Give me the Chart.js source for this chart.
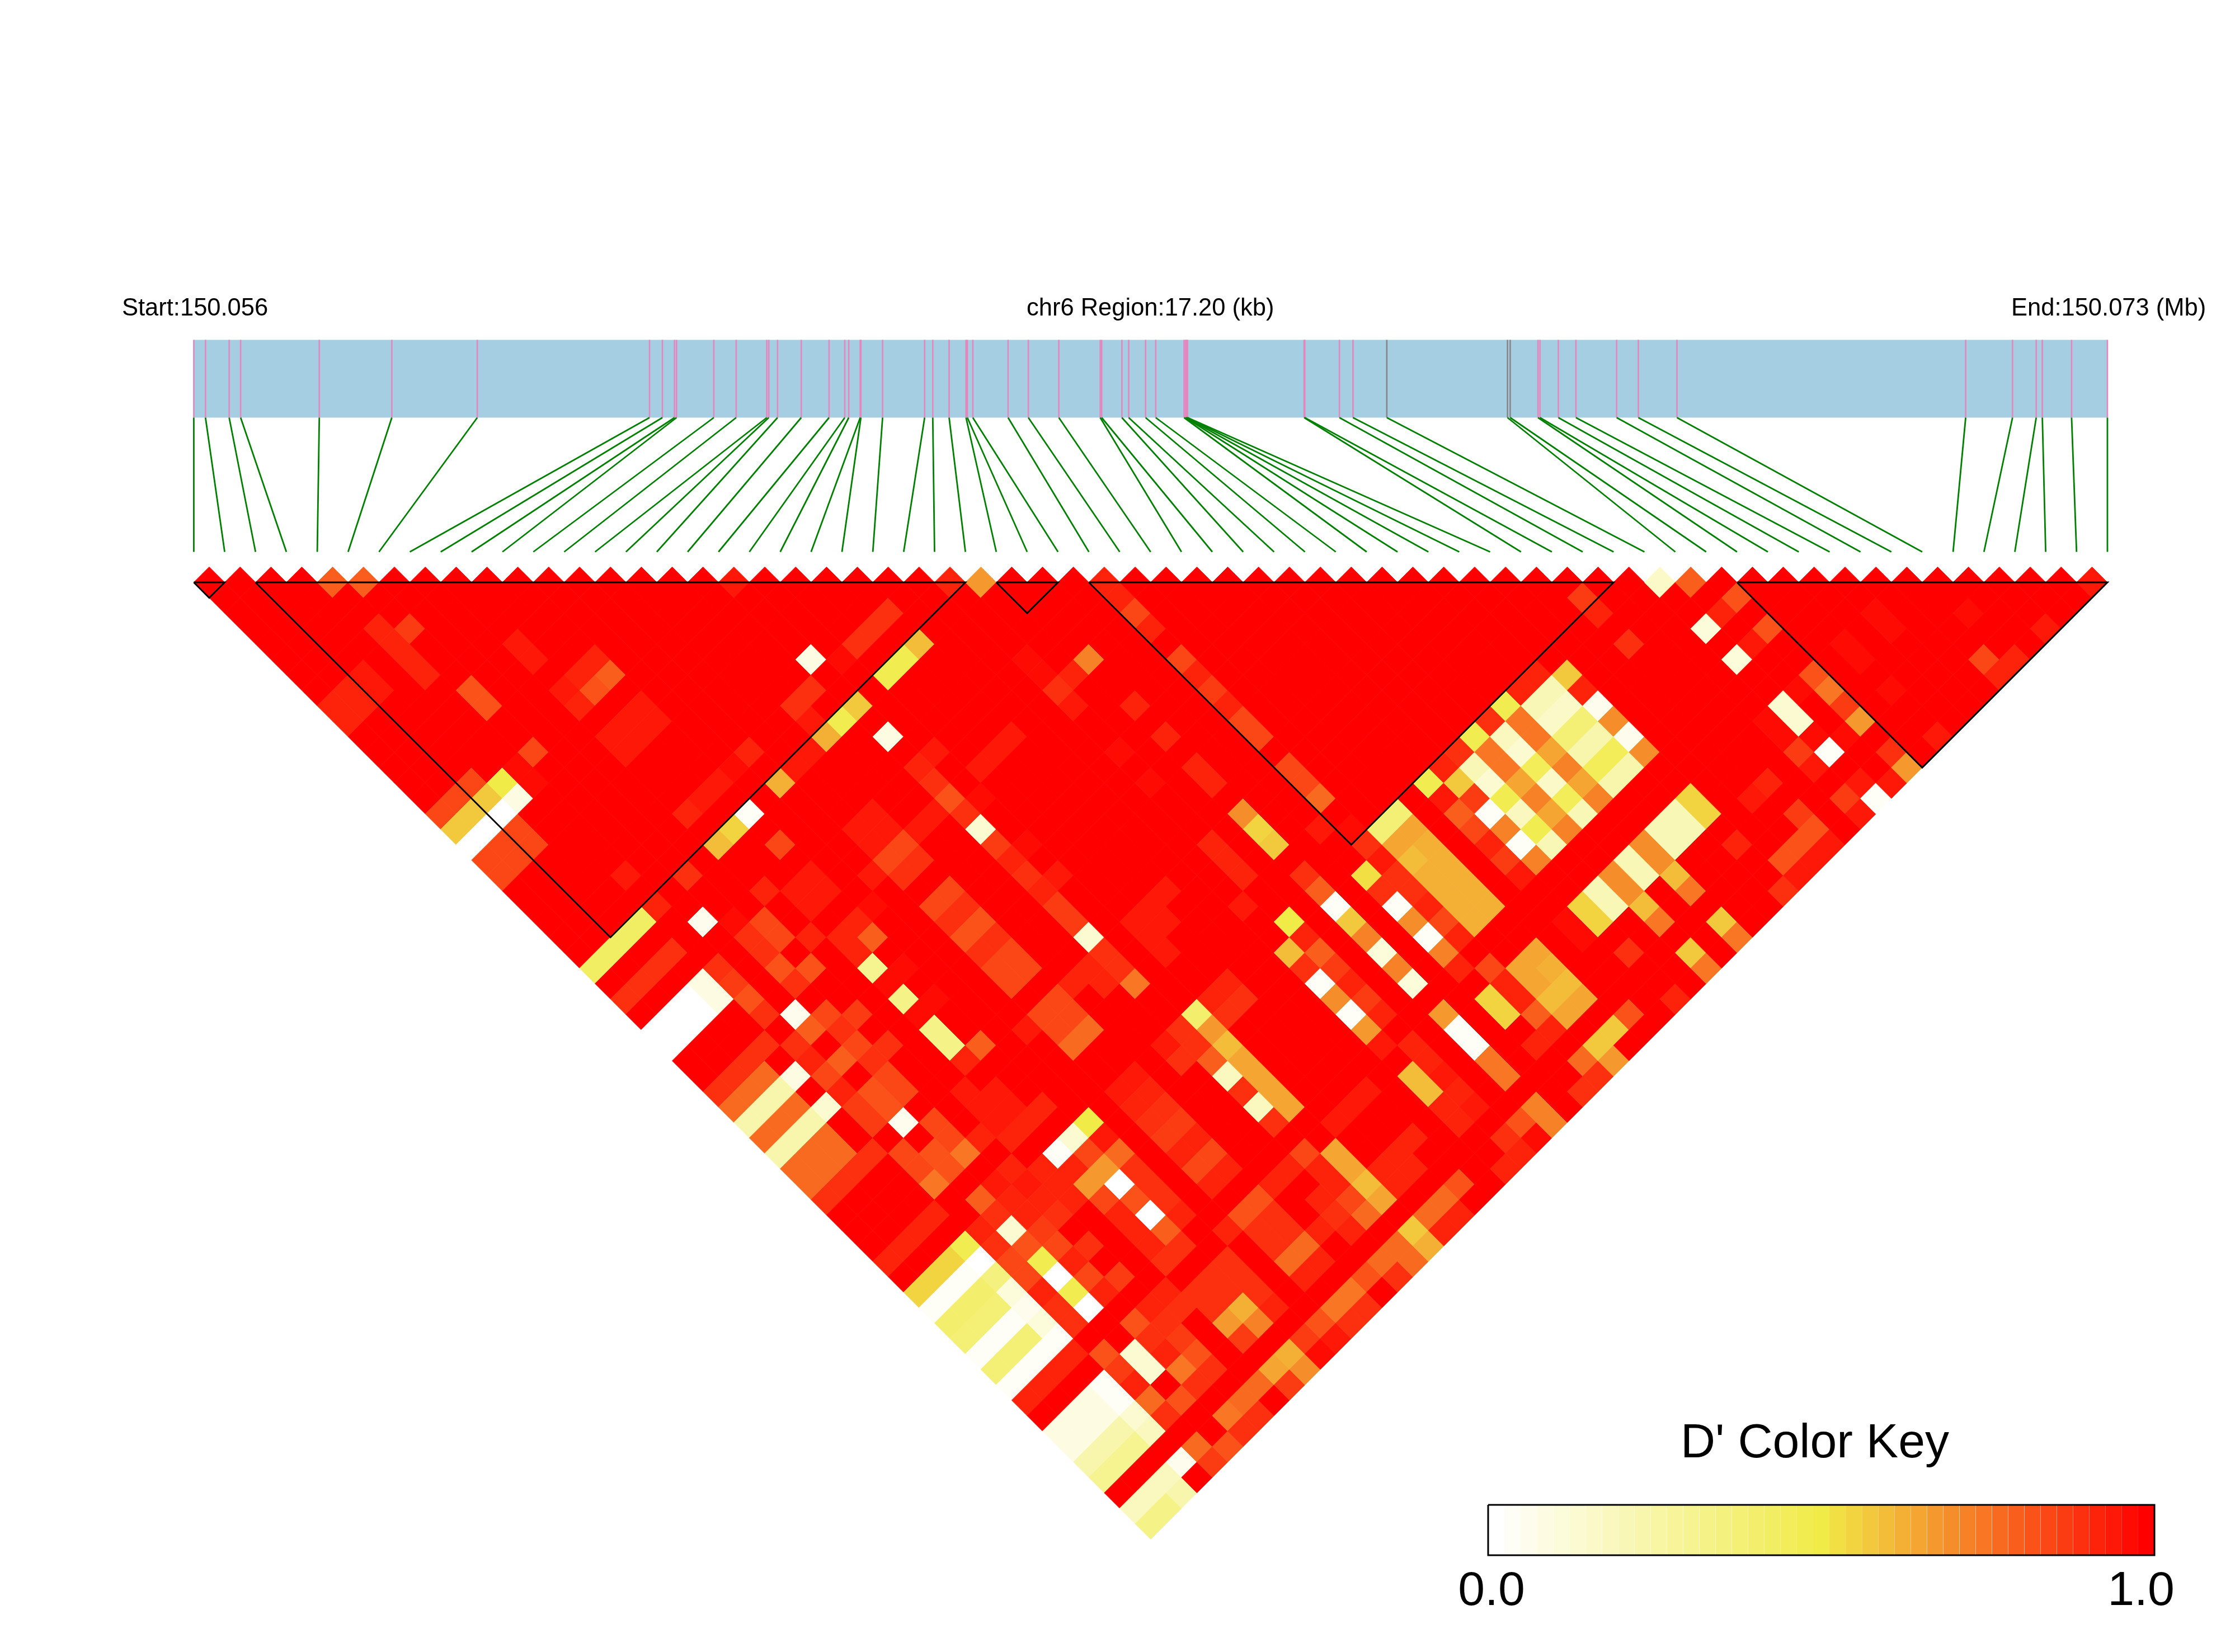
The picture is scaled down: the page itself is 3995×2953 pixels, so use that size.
<!DOCTYPE html>
<html>
<head>
<meta charset="utf-8">
<title>LD heatmap</title>
<script src="https://cdn.jsdelivr.net/npm/chart.js"></script>
<style>
  html, body { margin: 0; padding: 0; background: #fff; }
  canvas { display: block; }
</style>
</head>
<body>
<canvas id="ldChart" width="3995" height="2953"></canvas>
<script>
// snp positions along the region, kb from the start
const snpKb = [0, 0.105, 0.318, 0.421, 1.128, 1.78, 2.548, 4.096, 4.212, 4.321, 4.339, 4.674, 4.875, 5.15, 5.168, 5.247,
  5.46, 5.71, 5.851, 5.887, 5.99, 5.996, 6.191, 6.569, 6.642, 6.789, 6.941, 6.953, 7.002, 7.319, 7.501, 7.775,
  8.147, 8.16, 8.342, 8.403, 8.555, 8.646, 8.901, 8.914, 8.92, 8.926, 8.932, 9.98, 9.986, 10.297, 10.419, 10.723,
  11.808, 11.832, 12.082, 12.1, 12.265, 12.423, 12.789, 12.984, 13.331, 15.926, 16.347, 16.56, 16.615, 16.878, 17.2];
const greySnps = [47, 48, 49];

// haplotype blocks, first and last snp
const blockStart = [0, 2, 26, 29, 50];
const blockEnd = [1, 25, 28, 46, 62];

// colour key steps, D' = step / 40
const keySteps = [0,1,2,3,4,5,6,7,8,9,10,11,12,13,14,15,16,17,18,19,20,21,22,23,24,25,26,27,28,29,30,31,32,33,34,35,36,37,38,39,40];

const startLabel = "Start:150.056";
const midLabel = "chr6 Region:17.20 (kb)";
const endLabel = "End:150.073 (Mb)";
const keyTitle = "D' Color Key";
const keyTicks = ["0.0", "1.0"];

// snp pairs below D'=1.0: [snp a, snp b, step]. every other pair is 1.0
const lowPairs = [
[4,5,32],[5,6,32],[17,18,38],[24,25,37],[25,26,27],[29,30,37],[47,48,6],[48,49,32],[61,62,38],
[5,9,35],[4,8,37],[4,9,37],[4,10,37],[4,11,37],[8,13,38],[8,14,38],[10,16,37],[9,16,37],[10,17,32],[9,17,33],[8,16,38],[8,17,37],
[5,13,33],[5,14,33],[10,19,38],[9,19,38],[10,20,38],[9,20,38],[8,19,38],[8,20,38],[2,9,38],[2,10,38],[1,9,37],[0,9,37],[1,10,37],[0,10,37],
[5,17,34],[4,17,39],[4,18,39],[3,17,20],[2,16,34],[2,17,23],[3,18,3],[2,18,0],[1,17,23],[0,17,23],[1,16,34],[0,16,34],[1,18,0],[0,18,0],
[2,19,34],[2,20,34],[1,19,34],[0,19,34],[1,20,34],[0,20,34],[4,24,38],[6,26,36],[8,26,24],[9,26,22],[10,26,1],
[8,24,37],[10,24,38],[9,24,38],[11,24,39],[12,24,37],[4,26,37],[3,26,17],[2,26,17],[1,26,17],[0,26,17],[5,28,2],[6,29,39],
[3,28,36],[2,28,36],[1,28,36],[0,28,36],[4,30,36],[4,31,35],[3,30,3],[3,31,3],[2,30,0],[1,30,0],[0,30,0],[2,31,0],[1,31,0],[0,31,0],
[21,24,36],[20,24,36],[19,24,36],[18,24,39],[17,23,3],[21,26,24],[20,26,19],[19,26,19],[16,24,36],[15,24,36],[15,25,38],
[17,26,23],[16,26,19],[15,26,25],[14,26,38],[13,26,38],[12,26,25],[10,28,34],[17,28,3],
[18,30,38],[17,30,37],[17,31,36],[17,32,33],[17,33,36],[17,34,5],[17,35,35],[17,36,37],[17,37,36],[17,38,37],[17,39,35],[17,40,35],[17,41,5],[17,42,36],[17,43,36],[17,44,30],
[18,33,39],[18,36,39],[18,38,38],[16,32,38],[15,32,38],[14,30,38],[13,30,38],[14,31,38],[13,31,38],[14,32,34],[13,32,34],[14,33,36],[13,33,36],[12,32,38],
[21,32,38],[20,32,38],[19,32,38],[24,30,39],[24,31,39],[26,32,29],[25,32,37],[24,32,36],[24,33,38],
[29,31,37],[29,32,34],[29,33,37],[29,35,34],[29,36,37],[29,37,35],[29,38,37],[29,39,34],[29,40,34],
[26,35,37],[26,37,37],[24,36,39],[24,38,39],[26,39,37],[26,40,37],[26,42,28],[26,43,22],[26,44,23],[24,42,37],[24,43,37],[24,44,37],[23,45,38],
[21,42,38],[20,42,38],[19,42,38],[20,43,38],[19,43,38],[19,44,38],
[14,35,34],[13,35,34],[14,36,36],[13,36,36],[14,37,33],[13,37,33],[14,38,36],[13,38,36],[14,39,34],[13,39,34],[14,40,34],[13,40,34],
[10,30,38],[9,30,38],[10,31,38],[9,31,38],[8,29,37],[7,30,34],[7,31,34],[6,30,36],[6,31,36],
[8,32,37],[6,32,33],[7,33,33],[6,33,36],[10,33,37],[9,33,37],[10,34,32],[9,34,37],[9,35,12],[10,36,39],[9,36,39],[9,37,13],[10,38,39],[9,38,39],[11,33,39],
[9,39,13],[9,40,13],[10,41,32],[9,41,37],[8,42,38],[9,43,38],[8,43,38],[9,44,38],[8,44,38],[10,45,37],[9,45,37],[7,44,37],
[12,42,38],[14,42,34],[13,42,34],[14,43,34],[13,43,34],[14,44,31],[13,44,31],[16,42,37],[15,42,37],[16,43,37],[4,32,33],[4,33,36],
[5,34,2],[6,35,34],[7,36,35],[6,36,36],[5,35,32],[7,38,36],[6,37,34],[6,38,36],[4,35,36],[4,36,37],[5,37,32],[4,37,34],[4,38,37],
[3,36,3],[2,36,9],[1,36,9],[0,36,9],[2,35,31],[1,35,31],[0,35,31],[3,34,36],[2,34,36],[1,34,36],[0,34,36],
[3,38,5],[2,38,9],[1,38,9],[0,38,9],[2,37,31],[1,37,31],[0,37,31],[2,39,31],[1,39,31],[2,40,31],[0,39,31],[1,40,31],[0,40,31],
[3,41,36],[2,41,36],[1,41,36],[0,41,36],[3,45,37],[2,45,37],[1,45,37],[0,45,37],
[4,39,35],[4,40,35],[5,39,33],[5,40,33],[6,39,34],[6,40,34],[5,41,2],[6,42,34],[6,43,34],[6,44,30],[5,44,33],[5,43,33],[4,42,34],[4,43,34],[4,44,30],
[8,45,37],[7,46,37],[6,46,38],[7,47,38],[8,47,37],[11,47,20],[10,47,5],[9,47,1],[11,48,38],[10,48,34],[9,48,37],[11,49,31],[10,49,27],[9,49,27],[10,50,0],[9,50,34],[8,49,37],[8,48,37],
[5,46,32],[5,47,36],[5,48,5],[6,48,37],[6,47,37],[7,48,37],[7,49,36],[6,49,35],[5,49,33],[5,50,19],[6,50,34],[7,51,36],[6,51,37],[6,52,34],[5,51,0],[5,52,19],[5,53,0],[4,52,36],[4,51,37],
[4,48,36],[4,47,37],[4,49,34],[4,50,34],
[3,47,19],[2,47,22],[1,47,22],[0,47,22],[3,48,0],[2,48,1],[1,48,1],[0,48,1],[3,49,14],[2,49,16],[1,49,16],[0,49,16],
[3,50,4],[2,50,15],[1,50,15],[0,50,15],[3,51,2],[2,51,1],[1,51,1],[0,51,1],[3,52,4],[2,52,15],[1,52,15],[0,52,15],
[3,53,1],[2,53,1],[1,53,1],[0,53,1],[3,54,37],[2,54,37],[1,54,37],[0,54,37],[3,56,1],[3,57,1],
[0,56,3],[1,56,3],[2,56,3],[0,57,3],[1,57,3],[2,57,3],[0,58,9],[1,58,9],[2,58,9],[3,58,5],[0,59,12],[1,59,12],[2,59,12],[3,59,7],
[0,61,7],[1,61,7],[2,61,7],[3,61,2],[0,62,13],[1,62,13],[2,62,9],[4,61,31],[4,62,35],[5,62,33],
[6,61,30],[6,62,36],[7,62,36],[7,61,31],[8,61,31],[9,61,26],[10,61,25],[10,62,28],[9,62,35],[11,62,39],[11,61,35],[12,61,33],[12,62,38],
[14,61,30],[13,61,30],[14,62,36],[13,62,36],[15,61,33],[16,62,36],[17,61,31],[16,61,31],[17,62,31],
[9,52,37],[9,51,37],[10,51,33],[11,51,36],[11,50,36],[11,52,36],[10,52,0],[11,53,37],[10,53,32],[9,53,37],[10,54,36],[9,54,36],
[8,55,37],[7,55,37],[8,56,36],[7,56,36],[6,55,33],[6,56,36],[7,57,35],[7,58,33],[6,57,37],[6,58,30],[7,59,36],[6,59,36],
[5,56,5],[5,57,5],[4,56,35],[4,55,33],[4,57,37],[4,58,31],[5,59,33],[4,59,36],[6,53,37],[7,53,35],[4,53,36],
[9,56,36],[10,56,36],[10,57,36],[9,57,36],[11,56,36],[11,57,36],[11,58,36],[11,59,37],[10,58,25],[9,58,27],[10,59,29],[9,59,35],
[14,55,33],[13,55,33],[14,56,36],[13,56,36],[14,57,36],[13,57,36],[12,55,37],[14,58,31],[13,58,31],[14,59,37],[13,59,37],
[18,47,16],[18,48,27],[18,49,24],[18,50,26],[18,51,26],[18,52,26],[18,53,26],[17,50,7],[17,49,32],[17,51,36],[17,52,7],[17,53,36],
[20,47,37],[19,47,37],[20,48,36],[19,48,36],[17,47,36],[16,47,38],[17,48,36],[16,48,36],
[14,47,38],[13,47,38],[14,48,37],[13,48,37],[14,49,36],[13,49,36],[14,50,35],[13,50,35],[14,51,37],[13,51,37],[14,52,34],[13,52,34],[14,53,37],[13,53,37],
[21,55,38],[20,55,38],[19,55,38],[17,55,34],[16,55,37],[15,55,37],[17,56,37],[18,56,26],[18,57,26],[18,58,24],[18,59,26],
[17,58,34],[17,59,31],[17,57,37],[16,57,37],[16,58,36],[16,59,37],[15,58,37],[20,58,37],[19,58,37],[20,59,37],[19,59,37],[21,58,37],
[21,61,33],[20,61,31],[19,61,31],[20,62,37],[19,62,37],[18,61,23],[18,62,25],[26,61,29],[25,61,33],[26,62,29],[24,61,36],[25,62,39],[24,62,37],[23,62,37],
[29,55,34],[29,56,37],[28,56,22],[28,57,22],[29,57,37],[29,58,32],[31,56,26],[30,56,26],[30,57,26],[31,57,25],[31,58,24],[30,58,24],[31,59,26],[30,59,26],[29,59,37],[28,59,37],
[26,55,27],[26,56,1],[26,57,1],[26,58,30],[26,59,30],[23,56,24],[23,57,24],[24,55,37],[24,56,37],[24,57,38],[24,58,37],[24,59,38],[23,58,37],[23,59,37],
[31,61,23],[30,61,23],[29,61,31],[30,62,27],[29,62,36],[28,62,36],[32,61,33],
[24,47,20],[23,48,24],[24,48,37],[24,49,32],[23,49,36],[24,50,35],[23,50,1],[24,51,37],[23,51,28],[24,52,35],[23,52,1],[24,53,37],[23,53,27],[23,54,38],
[26,48,1],[26,49,23],[26,50,29],[26,51,4],[26,52,29],[26,53,4],[28,50,1],[28,51,28],[28,52,1],[28,53,29],[29,51,37],[29,52,34],[29,53,37],[28,54,37],
[28,48,21],[28,49,36],[29,49,36],[29,48,38],[29,50,36],[29,47,36],[29,46,39],[28,45,38],[29,42,34],[29,43,34],[29,44,31],[26,46,36],[26,47,32],
[31,47,15],[30,47,15],[31,48,26],[30,48,26],[31,49,25],[30,49,24],[31,50,25],[30,50,25],[31,51,25],[30,51,25],[31,52,25],[30,52,25],[31,53,25],[30,53,25],
[41,48,23],[40,47,37],[41,49,37],[40,48,8],[39,47,37],[39,48,8],[40,49,6],[41,50,2],[38,47,19],[38,48,30],[37,47,36],[39,49,6],[40,50,15],[41,51,28],
[36,47,19],[37,48,7],[38,49,30],[39,50,15],[40,51,9],[41,52,2],[35,47,36],[36,48,30],[37,49,5],[38,50,26],[39,51,9],[40,52,18],[41,53,28],
[34,47,37],[35,48,8],[36,49,30],[37,50,18],[38,51,29],[39,52,18],[40,53,9],[33,47,19],[34,48,23],[35,49,5],[36,50,26],[37,51,6],[38,52,26],[39,53,9],
[33,48,38],[34,49,35],[35,50,19],[36,51,29],[37,52,18],[38,53,29],[33,49,32],[34,50,1],[35,51,7],[36,52,26],[37,53,8],
[33,50,34],[34,51,29],[35,52,19],[36,53,29],[33,51,37],[34,52,1],[35,53,8],[33,52,35],[34,53,29],[33,53,38],
[44,46,35],[44,47,37],[44,49,36],[47,51,4],[48,51,37],[49,51,33],[47,53,4],[48,53,38],[49,53,33],
[41,56,22],[41,57,22],[40,56,8],[39,56,8],[40,57,8],[39,57,8],[38,56,28],[38,57,28],[37,56,8],[37,57,8],[38,58,24],[38,59,30],
[36,56,28],[36,57,28],[35,56,8],[35,57,8],[36,58,24],[36,59,30],[34,56,22],[34,57,22],[33,56,39],[33,57,39],
[38,61,23],[38,62,30],[34,59,36],[36,61,23],[36,62,30],[41,59,37],[34,62,37],
[49,56,33],[49,57,30],[49,58,35],[49,59,27],[48,56,39],[47,56,5],[47,57,5],[46,56,39],[46,57,39],[47,58,39],[48,59,39],[47,59,1],[46,58,35],[46,59,38],
[49,61,36],[49,62,27],[48,62,38],[47,62,1],[47,61,38],[46,61,35],[46,62,38],[44,58,37],[43,58,38],
[44,60,35],[44,61,33],[43,61,33],[42,61,33],[44,62,38],[43,62,38],[42,62,38],[41,62,36],
[53,56,39],[53,57,39],[51,56,39],[51,57,39],[56,59,39],[51,59,39],[58,62,38],[55,61,34],[56,62,37],[55,62,37],[51,62,38]
];

// page layout in pixels
const W = 3995, H = 2953;
const X0 = 346.4, CELL = 55.17, ROW = 27.585, Y0 = 1041;
const REGION_KB = 17.2;
const KEY_LEFT = 2660, KEY_RIGHT = 3851;
const rowAt = px => (px - Y0) / ROW;
const bandTop = rowAt(607.5), bandBottom = rowAt(746.5), stemBottom = rowAt(986.5);
const keyTop = rowAt(2690), keyBottom = rowAt(2780);
const CELL_BORDER = 1;
// chart.js pads the chart area by the size of the largest point
const INSET = ROW + CELL_BORDER;

function stepColor(step) {
  const stops = step <= 20 ? [[255, 255, 255], [240, 235, 71], step / 20] : [[240, 235, 71], [255, 0, 0], (step - 20) / 20];
  const c = [0, 1, 2].map(k => Math.round(stops[0][k] + (stops[1][k] - stops[0][k]) * stops[2]));
  return `rgb(${c[0]},${c[1]},${c[2]})`;
}

// matrix of steps, everything 40 except the listed pairs
const n = snpKb.length;
const steps = [];
for (let a = 0; a < n; a++) steps.push(new Array(n).fill(40));
lowPairs.forEach(p => { steps[p[0]][p[1]] = p[2]; });

const cellPoints = [], cellColors = [];
for (let a = 0; a < n; a++) {
  for (let b = a + 1; b < n; b++) {
    cellPoints.push({ x: (a + b) / 2, y: b - a - 1 });
    cellColors.push(stepColor(steps[a][b]));
  }
}

const lineSet = (data, color, width, extra) => Object.assign({
  data: data, showLine: true, borderColor: color, borderWidth: width,
  pointRadius: 0, fill: false, tension: 0, clip: false
}, extra || {});

const datasets = [];

// block outlines on top of the cells
blockStart.forEach((p, k) => {
  const q = blockEnd[k];
  datasets.push(lineSet([{ x: p, y: 0 }, { x: q, y: 0 }, { x: (p + q) / 2, y: q - p }, { x: p, y: 0 }], '#000', 3));
});

datasets.push({
  data: cellPoints, showLine: false, pointStyle: 'rectRot', pointRadius: ROW,
  pointBackgroundColor: cellColors, pointBorderColor: cellColors, pointBorderWidth: CELL_BORDER,
  clip: false
});

// stems from the band down to the snp slots
snpKb.forEach((kb, k) => {
  datasets.push(lineSet([{ x: kb / REGION_KB * (n - 1), y: bandBottom }, { x: k, y: stemBottom }], '#008000', 2.8));
});

// snp ticks inside the band
snpKb.forEach((kb, k) => {
  const color = greySnps.includes(k) ? '#868686' : '#E487BE';
  datasets.push(lineSet([{ x: kb, y: bandTop }, { x: kb, y: bandBottom }], color, 2.6, { xAxisID: 'xKb' }));
});

datasets.push(lineSet([{ x: 0, y: bandTop }, { x: REGION_KB, y: bandTop }], 'rgba(0,0,0,0)', 0, {
  xAxisID: 'xKb', fill: { target: { value: bandBottom } }, backgroundColor: '#A6CEE3'
}));

// colour key
datasets.push(lineSet([{ x: 0, y: keyTop }, { x: 1, y: keyTop }, { x: 1, y: keyBottom }, { x: 0, y: keyBottom }, { x: 0, y: keyTop }], '#000', 3, { xAxisID: 'xKey' }));
keySteps.forEach((s, k) => {
  datasets.push(lineSet([{ x: k / keySteps.length, y: keyTop }, { x: (k + 1) / keySteps.length, y: keyTop }], 'rgba(0,0,0,0)', 0, {
    xAxisID: 'xKey', fill: { target: { value: keyBottom } }, backgroundColor: stepColor(s)
  }));
});

const textPlugin = {
  id: 'ldText',
  afterDraw(chart) {
    const ctx = chart.ctx;
    ctx.save();
    ctx.fillStyle = '#000';
    ctx.textBaseline = 'alphabetic';
    ctx.textAlign = 'left';
    ctx.font = '43.5px "Liberation Sans", Arial, sans-serif';
    ctx.fillText(startLabel, 218, 564);
    ctx.fillText(midLabel, 1835, 564);
    ctx.fillText(endLabel, 3595, 564);
    ctx.textAlign = 'center';
    ctx.font = '86px "Liberation Sans", Arial, sans-serif';
    ctx.fillText(keyTitle, 3244, 2605);
    ctx.fillText(keyTicks[0], 2666, 2869);
    ctx.fillText(keyTicks[1], 3827, 2869);
    ctx.restore();
  }
};

const hiddenX = (x0, perUnit) => ({
  type: 'linear', display: false, bounds: 'data',
  min: (INSET - x0) / perUnit, max: (W - INSET - x0) / perUnit
});

new Chart(document.getElementById('ldChart'), {
  type: 'scatter',
  data: { datasets: datasets },
  options: {
    responsive: false,
    animation: false,
    devicePixelRatio: 1,
    layout: { padding: 0 },
    plugins: { legend: { display: false }, tooltip: { enabled: false }, title: { display: false } },
    scales: {
      x: hiddenX(X0, CELL),
      xKb: hiddenX(X0, CELL * (n - 1) / REGION_KB),
      xKey: hiddenX(KEY_LEFT, KEY_RIGHT - KEY_LEFT),
      y: {
        type: 'linear', display: false, bounds: 'data', reverse: true,
        min: (INSET - Y0) / ROW, max: (H - INSET - Y0) / ROW
      }
    }
  },
  plugins: [textPlugin]
});
</script>
</body>
</html>
